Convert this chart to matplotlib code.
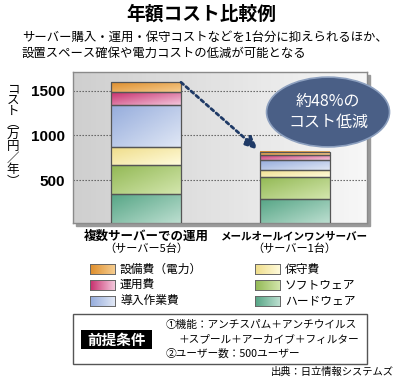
import numpy as np
import matplotlib
matplotlib.use("Agg")
import matplotlib.pyplot as plt
from matplotlib.patches import Rectangle, Ellipse
from matplotlib.colors import to_rgb

plt.rcParams['font.family'] = ['Noto Sans CJK JP', 'DejaVu Sans']

# data (万円/年)
categories = ["複数サーバーでの運用", "メールオールインワンサーバー"]
sublabels = ["（サーバー5台）", "（サーバー1台）"]
segments = ["ハードウェア", "ソフトウェア", "保守費", "導入作業費", "運用費", "設備費（電力）"]
values = {
    "ハードウェア": [350, 290],
    "ソフトウェア": [320, 240],
    "保守費": [200, 80],
    "導入作業費": [475, 110],
    "運用費": [145, 65],
    "設備費（電力）": [105, 35],
}
# dark / light ends of each fill gradient
colors = {
    "ハードウェア": ("#55a585", "#bfe0d2"),
    "ソフトウェア": ("#93b955", "#d3e6ad"),
    "保守費": ("#efdd8a", "#fffbdc"),
    "導入作業費": ("#95acdc", "#e0e7f5"),
    "運用費": ("#c8306e", "#f3c6db"),
    "設備費（電力）": ("#de8e2c", "#f6cc8e"),
}
legend_order = ["設備費（電力）", "運用費", "導入作業費", "保守費", "ソフトウェア", "ハードウェア"]
yticks = [500, 1000, 1500]
callout = "約48%の\nコスト低減"


def fx(x):
    return x / 400


def fy(y):
    return 1 - y / 384


def grad(c0, c1, n=32, diag=True):
    a = np.array(to_rgb(c0))
    b = np.array(to_rgb(c1))
    u = np.linspace(0, 1, n)
    if diag:
        t = (u[None, :] + u[:, None]) / 2  # dark top-left
    else:
        t = np.tile(u, (n, 1))
    return a[None, None, :] * (1 - t[..., None]) + b[None, None, :] * t[..., None]


fig = plt.figure(figsize=(4, 3.84), dpi=100)
ax = fig.add_axes([fx(73), fy(223), fx(367) - fx(73), fy(72) - fy(223)])

# shadow behind plot frame
fig.add_artist(Rectangle((fx(76), fy(226)), fx(294), fy(72) - fy(223),
                         transform=fig.transFigure, color="#9a9a9a", zorder=-1))

# background gradient
bg = np.linspace(0, 1, 64)[None, :, None]
bgimg = np.array(to_rgb("#cfcfcf")) * (1 - bg) + np.array(to_rgb("#f7f7f7")) * bg
ax.imshow(bgimg, extent=[0, 1, 0, 1], transform=ax.transAxes, aspect="auto", zorder=0)

x = np.arange(len(categories))
width = 0.471
bottoms = np.zeros(len(categories))
for seg in segments:
    vals = np.array(values[seg])
    for i in range(len(categories)):
        x0, x1 = x[i] - width / 2, x[i] + width / 2
        y0, y1 = bottoms[i], bottoms[i] + vals[i]
        ax.imshow(grad(*colors[seg]), extent=[x0, x1, y0, y1], aspect="auto",
                  origin="upper", zorder=2)
    ax.bar(x, vals, width, bottom=bottoms, facecolor="none", edgecolor="#555555",
           linewidth=0.9, zorder=3)
    bottoms += vals

ax.set_xlim(-0.4916, 1.488)
ax.set_ylim(20, 1710)
ax.set_yticks(yticks)
ax.set_yticklabels([str(v) for v in yticks], fontsize=11, fontweight="bold",
                   family=["Liberation Sans"])
ax.tick_params(axis="y", length=0, pad=6)
ax.set_xticks([])
for v in yticks:
    ax.axhline(v, color="#555555", lw=0.8, ls=(0, (1.2, 1.5)), zorder=1)
for s in ax.spines.values():
    s.set_color("#8a8a8a")
    s.set_linewidth(1)

# category labels
for i, (c, s) in enumerate(zip(categories, sublabels)):
    ax.text(x[i], -0.086, c, transform=ax.get_xaxis_transform(), ha="center", va="center",
            fontsize=9 if i == 0 else 7.6, fontweight="bold")
    ax.text(x[i], -0.172, s, transform=ax.get_xaxis_transform(), ha="center", va="center",
            fontsize=8)

# arrow between bars
total = bottoms
ax.annotate("", xy=(0.754, total[1] + 20), xytext=(x[0] + width / 2, total[0]),
            arrowprops=dict(arrowstyle="-|>,head_width=0.35,head_length=0.8",
                            ls=(0, (1.2, 1.2)), lw=2, color="#1f3a66",
                            shrinkA=0, shrinkB=0), zorder=5)

# callout ellipse
ell = Ellipse((1.2256, 1262), 0.828, 781, facecolor="#4a5f86", edgecolor="#8da0bf",
              lw=1.2, zorder=6, clip_on=False)
ax.add_patch(ell)
ax.text(1.2256, 1262, callout, ha="center", va="center",
        color="white", fontsize=11.5, linespacing=1.25, zorder=7, clip_on=False)

# y label written vertically
ylab = "コスト︵万円／年︶"
fig.text(fx(13), fy(135), "\n".join(ylab), ha="center", va="center", fontsize=9,
         linespacing=0.86)

# title & subtitle
fig.text(fx(201), fy(14), "年額コスト比較例", ha="center", va="center", fontsize=13.5,
         fontweight="bold")
fig.text(fx(22), fy(37), "サーバー購入・運用・保守コストなどを1台分に抑えられるほか、",
         ha="left", va="center", fontsize=8.9)
fig.text(fx(22), fy(53), "設置スペース確保や電力コストの低減が可能となる",
         ha="left", va="center", fontsize=8.9)

# legend
for k, seg in enumerate(legend_order):
    col, row = divmod(k, 3)
    lx = 90 + col * 165
    ly = 269 + row * 15.8
    lax = fig.add_axes([fx(lx), fy(ly + 5), fx(25), fy(0) - fy(10)])
    lax.imshow(grad(*colors[seg], diag=False), aspect="auto")
    lax.set_xticks([])
    lax.set_yticks([])
    for s in lax.spines.values():
        s.set_color("#666666")
        s.set_linewidth(0.7)
    fig.text(fx(lx + 30), fy(ly), seg, ha="left", va="center", fontsize=8.5)

# assumptions box
fig.add_artist(Rectangle((fx(73), fy(364)), fx(294), fy(314) - fy(364),
                         transform=fig.transFigure, facecolor="white",
                         edgecolor="#555555", lw=1))
fig.add_artist(Rectangle((fx(81), fy(349)), fx(71), fy(330) - fy(349),
                         transform=fig.transFigure, facecolor="black", edgecolor="none"))
fig.text(fx(116.5), fy(339.5), "前提条件", ha="center", va="center", fontsize=10.5,
         fontweight="bold", color="white")
fig.text(fx(166), fy(325), "①機能：アンチスパム＋アンチウイルス", ha="left", va="center",
         fontsize=7.7)
fig.text(fx(178), fy(340), "＋スプール＋アーカイブ＋フィルター", ha="left", va="center",
         fontsize=7.7)
fig.text(fx(166), fy(354), "②ユーザー数：500ユーザー", ha="left", va="center",
         fontsize=7.7)

fig.text(fx(394), fy(372), "出典：日立情報システムズ", ha="right", va="center",
         fontsize=7.4)

fig.savefig("out.png", dpi=100)
